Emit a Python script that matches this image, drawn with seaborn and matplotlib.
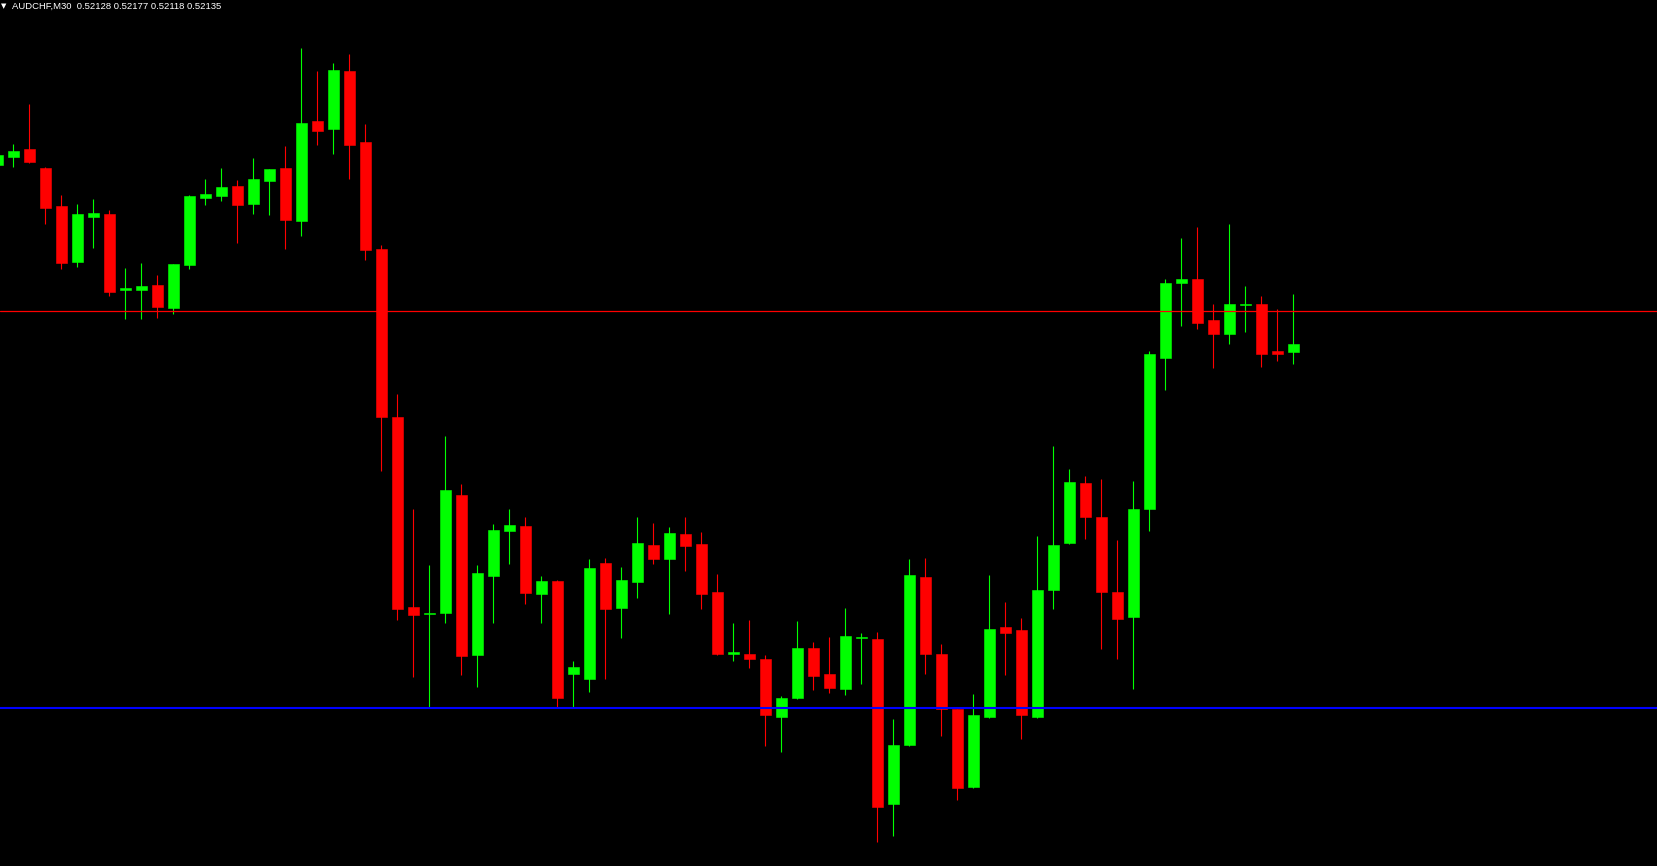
import numpy as np
import pandas as pd
import matplotlib
matplotlib.use("Agg")
import matplotlib.pyplot as plt
import seaborn as sns

# AUDCHF M30 candles, oldest first (first one is cut by the left edge)
opens = [
    0.52285, 0.52292, 0.52299, 0.52283, 0.52251, 0.52204, 0.52242, 0.52244, 0.52180, 0.52180,
    0.52185, 0.52165, 0.52201, 0.52258, 0.52259, 0.52268, 0.52253, 0.52272, 0.52283, 0.52238,
    0.52322, 0.52316, 0.52364, 0.52305, 0.52215, 0.52074, 0.51914, 0.51908, 0.51909, 0.52008,
    0.51874, 0.51940, 0.51978, 0.51982, 0.51925, 0.51936, 0.51858, 0.51854, 0.51951, 0.51913,
    0.51935, 0.51966, 0.51954, 0.51975, 0.51967, 0.51927, 0.51875, 0.51875, 0.51870, 0.51822,
    0.51838, 0.51880, 0.51858, 0.51845, 0.51888, 0.51887, 0.51749, 0.51798, 0.51939, 0.51875,
    0.51828, 0.51763, 0.51822, 0.51897, 0.51895, 0.51822, 0.51928, 0.51968, 0.52018, 0.51990,
    0.51927, 0.51906, 0.51996, 0.52123, 0.52186, 0.52190, 0.52155, 0.52143, 0.52168, 0.52169,
    0.52129, 0.52128,
]
highs = [
    0.52296, 0.52303, 0.52337, 0.52284, 0.52260, 0.52253, 0.52257, 0.52248, 0.52199, 0.52203,
    0.52193, 0.52202, 0.52260, 0.52274, 0.52283, 0.52273, 0.52291, 0.52282, 0.52301, 0.52384,
    0.52364, 0.52371, 0.52379, 0.52320, 0.52218, 0.52093, 0.51996, 0.51949, 0.52058, 0.52017,
    0.51949, 0.51984, 0.51996, 0.51990, 0.51940, 0.51937, 0.51869, 0.51954, 0.51955, 0.51948,
    0.51990, 0.51985, 0.51981, 0.51990, 0.51977, 0.51942, 0.51901, 0.51903, 0.51874, 0.51839,
    0.51902, 0.51885, 0.51889, 0.51913, 0.51892, 0.51893, 0.51820, 0.51954, 0.51955, 0.51883,
    0.51828, 0.51841, 0.51941, 0.51918, 0.51905, 0.51974, 0.52049, 0.52030, 0.52024, 0.52022,
    0.51970, 0.52020, 0.52129, 0.52190, 0.52224, 0.52233, 0.52169, 0.52236, 0.52184, 0.52175,
    0.52164, 0.52177,
]
lows = [
    0.52284, 0.52284, 0.52287, 0.52236, 0.52198, 0.52200, 0.52216, 0.52175, 0.52156, 0.52156,
    0.52157, 0.52160, 0.52198, 0.52252, 0.52255, 0.52220, 0.52244, 0.52243, 0.52215, 0.52226,
    0.52302, 0.52295, 0.52274, 0.52206, 0.52028, 0.51903, 0.51855, 0.51830, 0.51901, 0.51857,
    0.51847, 0.51901, 0.51950, 0.51917, 0.51901, 0.51829, 0.51829, 0.51843, 0.51854, 0.51888,
    0.51922, 0.51950, 0.51908, 0.51944, 0.51912, 0.51874, 0.51869, 0.51863, 0.51797, 0.51792,
    0.51837, 0.51844, 0.51842, 0.51840, 0.51849, 0.51717, 0.51722, 0.51797, 0.51858, 0.51806,
    0.51752, 0.51762, 0.51821, 0.51857, 0.51803, 0.51821, 0.51912, 0.51967, 0.51971, 0.51879,
    0.51870, 0.51845, 0.51978, 0.52096, 0.52150, 0.52148, 0.52115, 0.52135, 0.52145, 0.52116,
    0.52121, 0.52118,
]
closes = [
    0.52294, 0.52297, 0.52288, 0.52249, 0.52203, 0.52244, 0.52245, 0.52179, 0.52182, 0.52184,
    0.52166, 0.52202, 0.52259, 0.52261, 0.52267, 0.52252, 0.52274, 0.52282, 0.52239, 0.52321,
    0.52314, 0.52365, 0.52302, 0.52214, 0.52074, 0.51912, 0.51907, 0.51909, 0.52012, 0.51873,
    0.51943, 0.51979, 0.51983, 0.51926, 0.51936, 0.51838, 0.51864, 0.51947, 0.51912, 0.51937,
    0.51968, 0.51954, 0.51976, 0.51965, 0.51925, 0.51875, 0.51876, 0.51870, 0.51823, 0.51838,
    0.51880, 0.51856, 0.51846, 0.51890, 0.51889, 0.51746, 0.51798, 0.51941, 0.51875, 0.51828,
    0.51762, 0.51823, 0.51896, 0.51892, 0.51823, 0.51928, 0.51966, 0.52019, 0.51990, 0.51927,
    0.51904, 0.51996, 0.52127, 0.52186, 0.52190, 0.52153, 0.52143, 0.52169, 0.52169, 0.52127,
    0.52127, 0.52135,
]

symbol = "AUDCHF,M30"
last_quote = "0.52128 0.52177 0.52118 0.52135"
resistance = 0.52163
support = 0.51829

sns.set_style("dark", {"axes.facecolor": "black", "figure.facecolor": "black"})

df = pd.DataFrame({"open": opens, "high": highs, "low": lows, "close": closes})
df["bar"] = np.arange(len(df))
df["up"] = df["close"] > df["open"]
colors = np.where(df["up"], "#00ff00", "#ff0000")

fig = plt.figure(figsize=(16.57, 8.66), dpi=100)
ax = fig.add_axes([0, 0, 1, 1])
ax.set_facecolor("black")

# wicks then bodies
ax.vlines(df["bar"], df["low"], df["high"], colors=colors, linewidth=0.8, zorder=2)
ax.bar(df["bar"], df["close"] - df["open"], bottom=df["open"], width=0.66,
       color=colors, edgecolor=colors, linewidth=0.4, zorder=3)

# horizontal levels sit on top of the candles
ax.axhline(resistance, color="#ff0000", linewidth=0.9, zorder=4)
ax.axhline(support, color="#0000ff", linewidth=1.5, zorder=4)

ax.set_xlim(0.167, 103.73)
ax.set_ylim(0.516965, 0.52424)
ax.set_xticks([])
ax.set_yticks([])
for s in ax.spines.values():
    s.set_visible(False)

fig.text(1 / 1657, 1 - 6 / 866, "\u25bc", color="white", fontsize=5,
         family="DejaVu Sans", va="center", ha="left")
fig.text(12 / 1657, 1 - 6 / 866, f"{symbol}  {last_quote}", color="white",
         fontsize=6.8, family="Liberation Sans", va="center", ha="left")

fig.savefig("out.png", dpi=100, facecolor="black")
plt.close()
